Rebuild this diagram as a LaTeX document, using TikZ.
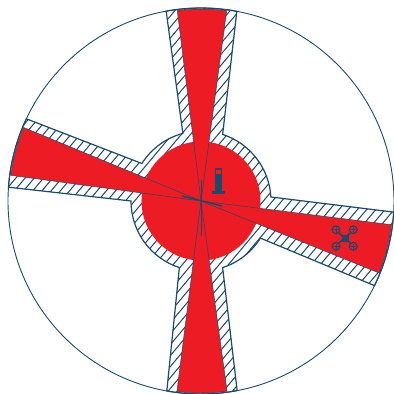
\documentclass[tikz,border=0pt]{standalone}
\definecolor{navy}{HTML}{1B4A6B}
\definecolor{rd}{HTML}{ED1C24}
\tikzset{
  wedgeshape/.style={fill=rd,draw=navy,line width=0.5pt,line join=miter},
  hatchline/.style={draw=navy,line width=1pt},
  thick bar/.style={draw=navy,line width=1.5pt}
}
\newcommand{\channelpath}{
  (100.4:193) -- (105:70) arc[start angle=105,end angle=147.6,radius=70]
  -- (154.8:193) arc[start angle=154.8,end angle=175.9,radius=193]
  -- (180:70) arc[start angle=180,end angle=252,radius=70]
  -- (259.8:193) arc[start angle=259.8,end angle=280.8,radius=193]
  -- (288:70) arc[start angle=288,end angle=328,radius=70]
  -- (334:193) arc[start angle=334,end angle=356.7,radius=193]
  -- (3.3:70) arc[start angle=3.3,end angle=72,radius=70]
  -- (79.3:193) arc[start angle=79.3,end angle=100.4,radius=193] -- cycle
}
\newcommand{\redwedge}[2]{\draw[wedgeshape] (0,0) -- (#1:192) arc[start angle=#1,end angle=#2,radius=192] -- cycle;}
\newcommand{\rotor}[2]{
  \draw[navy,line width=1.2pt] (#1,#2) circle[radius=3.9];
  \draw[navy,line width=0.9pt] (#1-2.8,#2) -- (#1+2.8,#2) (#1,#2-2.8) -- (#1,#2+2.8);
}
\begin{document}
\begin{tikzpicture}[x=1pt,y=1pt]
\useasboundingbox (-201,-193) rectangle (193,201);
\fill[white] (-201,-193) rectangle (193,201);
\draw[navy,line width=0.9pt] (0,0) circle[radius=193];
\begin{scope}
  \clip \channelpath;
  \foreach \o in {-600,-590.8,...,600} {
    \draw[hatchline] (\o-210,-250) -- (\o+210,250);
  }
\end{scope}
\draw[navy,line width=1.2pt,line join=miter] \channelpath;
\fill[rd] (0,0) circle[radius=59.5];
\redwedge{82.3}{97.1}
\redwedge{157.5}{172.3}
\redwedge{262.8}{277.8}
\redwedge{338}{352.9}
\draw[thick bar] (0.5,21) -- (0.5,-35);
\draw[thick bar] (-19,5) -- (21,-5);
\fill[navy] (14.5,9.5) rectangle (21,26);
\fill[navy] (11,7.5) rectangle (24.5,10);
\draw[navy,fill=rd,line width=1pt] (14.8,32.2) rectangle (20.7,27);
\fill[navy] (14.3,32.7) rectangle (21.2,30.7);
\draw[navy,line width=1.6pt] (138,-32) -- (149.3,-42) (149.3,-32) -- (138,-42);
\fill[navy] (140.5,-40.5) rectangle (147.5,-33.5);
\rotor{135}{-28.7}
\rotor{152.3}{-28.7}
\rotor{135}{-45.3}
\rotor{152.3}{-45.3}
\end{tikzpicture}
\end{document}
